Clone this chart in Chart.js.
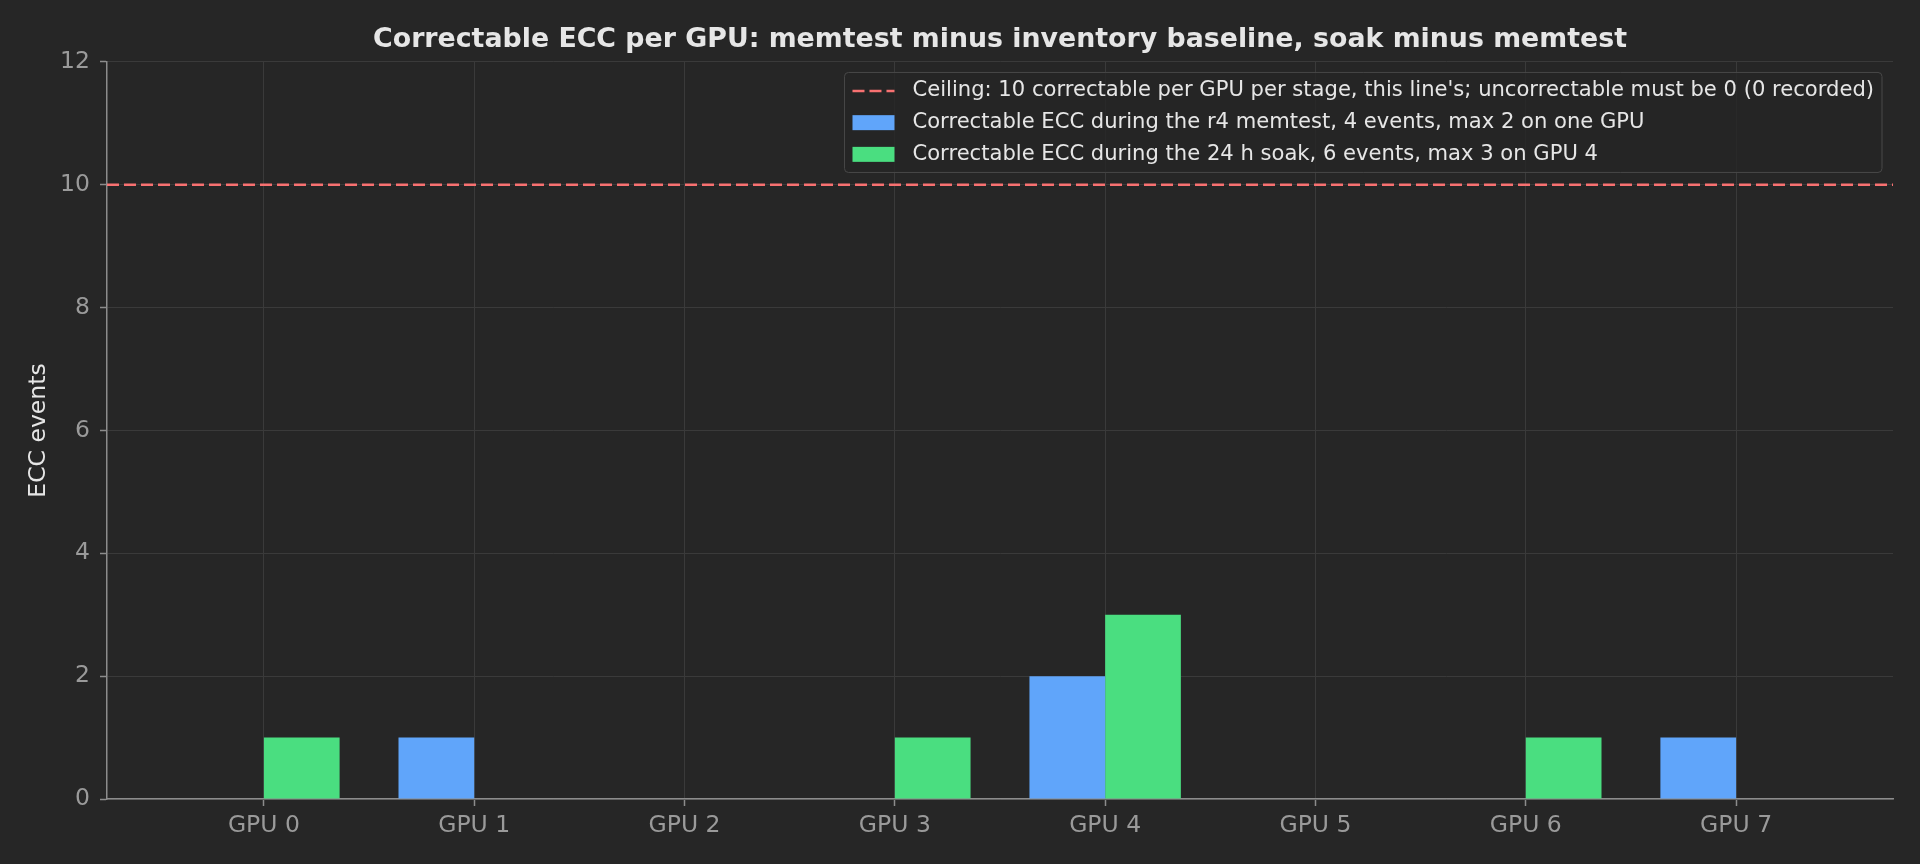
<!DOCTYPE html>
<html>
<head>
<meta charset="utf-8">
<title>Correctable ECC per GPU</title>
<style>
  html, body { margin: 0; padding: 0; background: #262626; }
  #wrap { width: 1920px; height: 864px; }
</style>
<script src="https://cdn.jsdelivr.net/npm/chart.js@4.4.1/dist/chart.umd.min.js"></script>
</head>
<body>
<div id="wrap"><canvas id="eccChart" width="1920" height="864"></canvas></div>
<script>
const gpuLabels = ['GPU 0', 'GPU 1', 'GPU 2', 'GPU 3', 'GPU 4', 'GPU 5', 'GPU 6', 'GPU 7'];
const memtestEcc = [0, 1, 0, 0, 2, 0, 0, 1];
const soakEcc = [1, 0, 0, 1, 3, 0, 1, 0];
const ceilingValue = 10;
const yTicks = [0, 2, 4, 6, 8, 10, 12];

const xMin = -0.746;
const xMax = 7.746;

const axisGray = '#8c8c8c';
const tickGray = '#9a9a9a';
const gridGray = '#3a3a3a';
const textLight = '#e6e6e6';

Chart.defaults.font.family = '"DejaVu Sans", sans-serif';

// legend drawn inside the plot, top right, like the original
const insideLegend = {
  id: 'insideLegend',
  afterDraw(chart) {
    const { ctx, chartArea } = chart;
    const items = chart.data.datasets;
    ctx.save();
    ctx.font = '21.1px "DejaVu Sans"';
    const textW = Math.max(...items.map(d => ctx.measureText(d.label).width));
    const padX = 8, handleW = 42, gap = 18, rowH = 31.7;
    const boxW = padX + handleW + gap + textW + padX;
    const boxH = 100;
    const right = chartArea.right - 11;
    const left = right - boxW;
    const top = chartArea.top + 10.5;

    ctx.beginPath();
    ctx.roundRect(left, top, boxW, boxH, 4);
    ctx.fillStyle = 'rgba(38,38,38,0.8)';
    ctx.fill();
    ctx.lineWidth = 1;
    ctx.strokeStyle = '#484848';
    ctx.stroke();

    items.forEach((d, i) => {
      const cy = top + 18.5 + i * rowH;
      const hx = left + padX;
      if (d.type === 'line') {
        ctx.beginPath();
        ctx.setLineDash(d.borderDash || []);
        ctx.strokeStyle = d.borderColor;
        ctx.lineWidth = d.borderWidth;
        ctx.moveTo(hx, cy);
        ctx.lineTo(hx + handleW, cy);
        ctx.stroke();
        ctx.setLineDash([]);
      } else {
        ctx.fillStyle = d.backgroundColor;
        ctx.fillRect(hx, cy - 7.5, handleW, 15);
      }
      ctx.fillStyle = textLight;
      ctx.textBaseline = 'middle';
      ctx.textAlign = 'left';
      ctx.fillText(d.label, hx + handleW + gap, cy);
    });
    ctx.restore();
  }
};

const ctx = document.getElementById('eccChart').getContext('2d');

new Chart(ctx, {
  type: 'bar',
  data: {
    datasets: [
      {
        type: 'line',
        label: "Ceiling: 10 correctable per GPU per stage, this line's; uncorrectable must be 0 (0 recorded)",
        data: [{ x: xMin, y: ceilingValue }, { x: xMax, y: ceilingValue }],
        borderColor: '#f87171',
        borderWidth: 2.5,
        borderDash: [12, 5],
        pointRadius: 0,
        fill: false
      },
      {
        label: 'Correctable ECC during the r4 memtest, 4 events, max 2 on one GPU',
        data: memtestEcc.map((v, i) => ({ x: i, y: v })),
        backgroundColor: '#60a5fa',
        borderWidth: 0,
        categoryPercentage: 0.72,
        barPercentage: 1
      },
      {
        label: 'Correctable ECC during the 24 h soak, 6 events, max 3 on GPU 4',
        data: soakEcc.map((v, i) => ({ x: i, y: v })),
        backgroundColor: '#4ade80',
        borderWidth: 0,
        categoryPercentage: 0.72,
        barPercentage: 1
      }
    ]
  },
  options: {
    responsive: false,
    animation: false,
    devicePixelRatio: 1,
    layout: { padding: { left: 0, right: 27, top: 0, bottom: 0 } },
    plugins: {
      legend: { display: false },
      tooltip: { enabled: false },
      title: {
        display: true,
        fullSize: false,
        text: 'Correctable ECC per GPU: memtest minus inventory baseline, soak minus memtest',
        color: textLight,
        font: { size: 26.8, weight: 'bold' },
        padding: { top: 24.4, bottom: 5.4 }
      }
    },
    scales: {
      x: {
        type: 'linear',
        min: xMin,
        max: xMax,
        offset: false,
        afterBuildTicks: s => { s.ticks = gpuLabels.map((_, i) => ({ value: i })); },
        afterFit: s => { s.height = 65; },
        ticks: {
          callback: v => gpuLabels[v],
          color: tickGray,
          font: { size: 23.5 },
          padding: 5.5,
          autoSkip: false,
          maxRotation: 0
        },
        grid: { offset: false, color: gridGray, lineWidth: 1, tickColor: axisGray, tickLength: 7, tickWidth: 1.5 },
        border: { color: axisGray, width: 1.5 }
      },
      y: {
        min: 0,
        max: 12,
        afterBuildTicks: s => { s.ticks = yTicks.map(v => ({ value: v })); },
        afterFit: s => { s.width = 107; },
        ticks: { color: tickGray, font: { size: 23.5 }, padding: 10 },
        grid: { color: gridGray, lineWidth: 1, tickColor: axisGray, tickLength: 7, tickWidth: 1.5 },
        border: { color: axisGray, width: 1.5 },
        title: {
          display: true,
          text: 'ECC events',
          color: textLight,
          font: { size: 23.5 },
          padding: { top: 25, bottom: 0 }
        }
      }
    }
  },
  plugins: [insideLegend]
});
</script>
</body>
</html>
